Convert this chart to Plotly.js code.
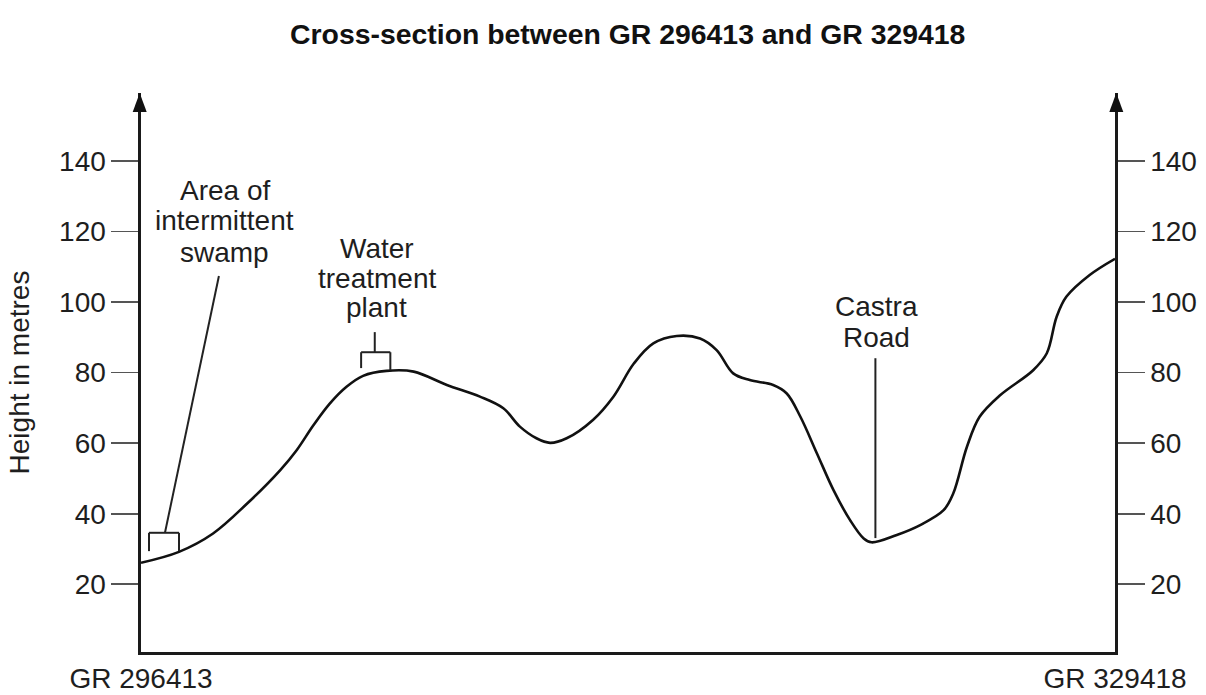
<!DOCTYPE html>
<html>
<head>
<meta charset="utf-8">
<script src="https://cdn.plot.ly/plotly-3.0.1.min.js"></script>
<style>
  html, body { margin: 0; padding: 0; background: #fff; }
  #chart { width: 1206px; height: 695px; }
</style>
</head>
<body>
<div id="chart"></div>
<script>
// Distance along the section (percent of the section length) and ground height (m)
const distance = [0, 3.9, 7.4, 10.9, 14.3, 16.0, 17.7, 19.4, 21.1, 22.8, 25.2, 28.0, 31.4, 34.8, 37.2, 38.9,
  40.6, 42.0, 43.7, 46.4, 48.5, 50.6, 52.6, 55.0, 57.4, 59.1, 60.8, 62.5, 64.9, 66.3, 67.7, 69.4, 71.1,
  72.8, 74.2, 75.0, 77.6, 80.0, 82.4, 83.4, 84.8, 86.1, 88.2, 91.6, 93.0, 94.0, 95.0, 97.4, 100];
const height = [26.1, 29.2, 34.4, 42.9, 52.4, 58.1, 65.1, 71.3, 76.0, 79.1, 80.5, 80.3, 76.5, 73.2, 69.9, 64.7,
  61.4, 60.1, 61.4, 66.6, 73.2, 82.6, 88.3, 90.4, 89.7, 86.4, 79.8, 77.9, 76.5, 74.1, 67.5, 57.1, 46.7,
  38.2, 33.0, 31.9, 34.0, 36.8, 41.0, 45.8, 59.0, 67.5, 73.6, 80.7, 85.5, 95.8, 101.5, 107.7, 112.3];

const yTickVals = [20, 40, 60, 80, 100, 120, 140];
const endLabels = ['GR 296413', 'GR 329418'];
const endPositions = [0, 100];

const titleText = 'Cross-section between GR 296413 and GR 329418';
const yTitleText = 'Height in metres';

// Feature labels: each line, its position along the section and its height on the chart
const labelLines = ['Area of', 'intermittent', 'swamp', 'Water', 'treatment', 'plant', 'Castra', 'Road'];
const labelX = [8.6, 8.6, 8.6, 24.2, 24.2, 24.2, 75.5, 75.5];
const labelY = [131.7, 123.2, 114.2, 115.3, 106.8, 98.6, 98.9, 89.9];

const yRange = [0.8, 159.3];
const xRange = [0, 100];

const FONT = '"Liberation Sans", Arial, Helvetica, sans-serif';
const INK = '#1e1e1e';

const traces = [{
  x: distance, y: height, type: 'scatter', mode: 'lines',
  line: {color: '#111', width: 2.6, shape: 'spline', smoothing: 1},
  hoverinfo: 'skip', showlegend: false
}, {
  x: [], y: [], yaxis: 'y2', type: 'scatter', showlegend: false, hoverinfo: 'skip'
}];

function seg(x0, y0, x1, y1) {
  return {type: 'line', xref: 'x', yref: 'y', x0: x0, y0: y0, x1: x1, y1: y1,
          line: {color: '#222', width: 2}};
}
function arrowHead(xPaper, path) {
  return {type: 'path', xref: 'paper', yref: 'paper', xsizemode: 'pixel', ysizemode: 'pixel',
          xanchor: xPaper, yanchor: 1, path: path,
          fillcolor: '#111', line: {width: 0}};
}

const shapes = [
  // swamp leader + bracket
  seg(8.0, 107.4, 2.46, 34.6),
  seg(0.82, 34.6, 3.9, 34.6),
  seg(0.82, 34.6, 0.82, 29.4),
  seg(3.9, 34.6, 3.9, 29.4),
  // water treatment plant stub + bracket
  seg(24.0, 91.5, 24.0, 85.8),
  seg(22.6, 85.8, 25.6, 85.8),
  seg(22.6, 85.8, 22.6, 81.3),
  seg(25.6, 85.8, 25.6, 80.7),
  // Castra Road
  seg(75.4, 84.1, 75.4, 33.1),
  arrowHead(0, 'M-8.3,-19L5.7,-19L-1.3,0Z'),
  arrowHead(1, 'M-5.7,-19L8.3,-19L1.3,0Z')
];

const annotations = labelLines.map((t, i) => ({
  text: t, x: labelX[i], y: labelY[i], xref: 'x', yref: 'y',
  showarrow: false, xanchor: 'center', yanchor: 'middle',
  font: {family: FONT, size: 28, color: INK}
}));

const yCommon = {
  range: yRange, tickvals: yTickVals, ticks: 'outside', ticklen: 27, tickwidth: 1.6,
  tickcolor: '#555', showline: true, linecolor: '#1a1a1a', linewidth: 2.6,
  showgrid: false, zeroline: false, tickfont: {family: FONT, size: 28, color: INK},
  fixedrange: true
};

const layout = {
  width: 1206, height: 695,
  margin: {l: 141, r: 91, t: 93, b: 43},
  paper_bgcolor: '#fff', plot_bgcolor: '#fff',
  title: {text: '<b>' + titleText + '</b>', x: 0.5205, xanchor: 'center', y: 1 - 34 / 695, yanchor: 'middle',
          font: {family: FONT, size: 28.4, color: '#111'}},
  xaxis: {range: xRange, tickvals: endPositions, ticktext: endLabels, ticks: '',
          showline: true, linecolor: '#1a1a1a', linewidth: 2.6, showgrid: false, zeroline: false,
          tickfont: {family: FONT, size: 28, color: INK}, fixedrange: true},
  yaxis: Object.assign({}, yCommon, {side: 'left',
          title: {text: yTitleText, font: {family: FONT, size: 28, color: INK}, standoff: 22}}),
  yaxis2: Object.assign({}, yCommon, {side: 'right', overlaying: 'y'}),
  shapes: shapes,
  annotations: annotations,
  showlegend: false
};

Plotly.newPlot('chart', traces, layout, {displayModeBar: false, staticPlot: true});
</script>
</body>
</html>
